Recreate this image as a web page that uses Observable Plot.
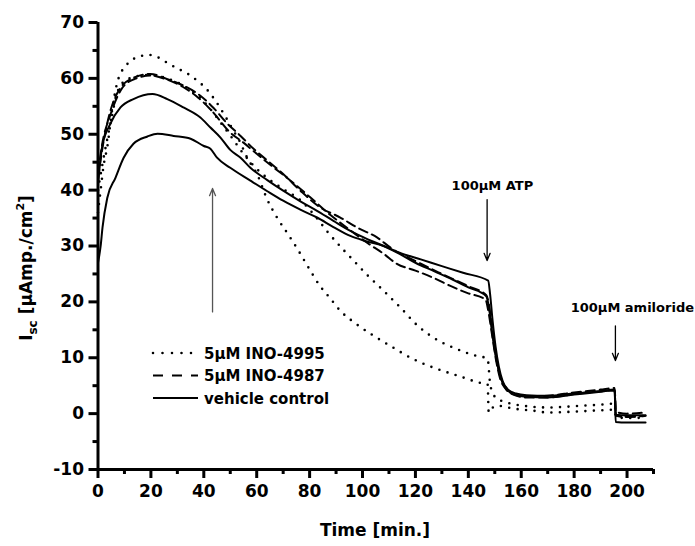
<!DOCTYPE html>
<html>
<head>
<meta charset="utf-8">
<script src="https://cdn.jsdelivr.net/npm/d3@7"></script>
<script src="https://cdn.jsdelivr.net/npm/@observablehq/plot@0.6"></script>
<style>
  html, body { margin: 0; padding: 0; background: #fff; }
  #chart { width: 695px; height: 546px; }
  #chart g[aria-label$="tick"], #chart g[aria-label$="tick"] path { stroke-width: 3px !important; stroke: #000 !important; }
  #chart g[aria-label="rule"] line { stroke-width: 3px !important; }
</style>
</head>
<body>
<div id="chart"></div>
<script>
// ---------- data ----------
const xTicks = [0, 20, 40, 60, 80, 100, 120, 140, 160, 180, 200];
const xMinorTicks = [10, 30, 50, 70, 90, 110, 130, 150, 170, 190, 210];
const yTicks = [-10, 0, 10, 20, 30, 40, 50, 60, 70];
const yMinorTicks = [-5, 5, 15, 25, 35, 45, 55, 65];

// 5µM INO-4995, trace A (dotted)
const dottedA_t = [0, 1, 2, 3.6, 5.4, 7.3, 9, 11.6, 15.4, 19.5, 23, 26.8, 30.4, 34, 37.5, 41, 44.4, 48, 51, 53.5, 56.4, 60.2, 64, 67.8, 72, 76, 80, 84, 87.5, 91.6, 96.6, 103, 110.6, 119, 127, 136, 144.5, 147.3, 147.7, 148.5, 151, 157, 165, 170, 182, 190, 195.3, 195.8, 200, 207];
const dottedA_v = [36, 40, 44, 48, 54.5, 59.3, 61.3, 62.8, 63.9, 64.2, 63.7, 62.6, 61.7, 60.8, 59.6, 58.1, 56, 53.3, 50.8, 48.8, 45.8, 42.8, 38.3, 35, 32, 29, 25.8, 22.8, 20.8, 18.4, 16.4, 14.3, 12.1, 9.8, 8.2, 6.8, 5.5, 5.2, 0.2, 0.8, 1.4, 0.9, 0.5, 0.2, 0.4, 0.6, 0.7, -0.6, -0.8, -0.7];
// 5µM INO-4995, trace B (dotted)
const dottedB_t = [0, 1.7, 4.7, 7.3, 10, 14, 18, 22, 26, 30, 34, 38, 42, 46, 50, 55, 60, 65, 70, 76.5, 82, 87, 92.8, 96, 101.8, 107.5, 114.3, 120.7, 126.8, 134.4, 141, 147.3, 148.2, 149.5, 151, 156, 161, 170, 182.5, 190, 195.3, 195.8, 200, 207];
const dottedB_v = [40, 44.7, 51.9, 57.5, 59.5, 60.3, 60.6, 60.5, 60, 59.3, 58.2, 56.8, 54.8, 52.3, 49.8, 46.5, 43.8, 41.8, 40.2, 38.2, 35.4, 32.4, 29.3, 27.7, 24.8, 22.2, 19, 15.8, 13.6, 11.8, 10.6, 9.8, 5.5, 3.4, 2.7, 1.8, 1.4, 1.1, 1.4, 1.6, 1.8, -0.3, -0.5, -0.4];
// 5µM INO-4987, trace A (dashed)
const dashedA_t = [0, 1.5, 4.7, 8.5, 13.4, 19.8, 26, 32.3, 38.7, 43.7, 48.9, 53.9, 58.8, 64, 70, 76.5, 84, 91.6, 98, 105.6, 110.6, 120, 130, 140, 146.8, 147.8, 149, 150.5, 152, 154, 157, 162, 170, 180, 190, 195.3, 195.8, 200, 207];
const dashedA_v = [42, 47, 54.2, 58.3, 60.1, 60.8, 59.9, 58.7, 56.9, 54.7, 51.9, 49.7, 47.4, 45.3, 42.9, 39.9, 36.9, 35.1, 33.3, 31.5, 29.7, 27.3, 25, 22.8, 21.2, 19.5, 15, 10, 6.8, 4.8, 3.6, 3.1, 3.2, 3.8, 4.3, 4.6, 0.3, 0, 0.2];
// 5µM INO-4987, trace B (dashed)
const dashedB_t = [0, 1.5, 4.7, 8.5, 13.4, 20, 26, 32, 38, 43, 50, 55, 60, 66, 72, 80, 88, 96, 102, 108, 113, 120, 126.8, 133, 139.5, 146.5, 147.5, 149, 150.5, 152, 154, 157, 162, 170, 180, 190, 195.3, 195.8, 200, 207];
const dashedB_v = [43, 48, 53.5, 57.8, 59.8, 60.5, 59.8, 58.5, 56.5, 54.2, 50.3, 48.5, 46.5, 44.2, 42, 38.8, 35.5, 32.6, 30.5, 28.6, 26.8, 25.6, 24.3, 22.9, 21.6, 20.4, 18.5, 14, 9.5, 6.3, 4.5, 3.4, 2.9, 2.9, 3.5, 4.0, 4.2, -0.4, -0.6, -0.4];
// vehicle control, trace A (solid)
const solidA_t = [0, 1, 1.7, 3.5, 6.6, 9.7, 13.4, 18.7, 22.5, 28.6, 35, 40, 42.5, 45, 50, 57.6, 64, 70, 76.5, 82.8, 89, 95.4, 101, 108, 114, 122, 130, 138, 147.5, 148.2, 149.2, 150.3, 151.5, 153, 155, 158, 162, 170, 180, 190, 195.3, 195.7, 200, 207];
const solidA_v = [27, 30, 33.3, 38.6, 42.2, 45.8, 48.3, 49.6, 50.1, 49.7, 49.2, 47.9, 47.4, 45.8, 44, 41.7, 39.8, 38.1, 36.5, 35.1, 33.4, 31.8, 30.9, 30, 28.8, 27.6, 26.4, 25.2, 23.8, 21.5, 16.5, 12, 8.5, 5.8, 4.3, 3.6, 3.3, 3.2, 3.6, 4.0, 4.3, -1.5, -1.6, -1.6];
// vehicle control, trace B (solid)
const solidB_t = [0, 1.5, 4.7, 8.5, 13.4, 20.6, 26.2, 32.3, 38.7, 42.5, 46.3, 50, 53.9, 57.6, 64, 70, 76.5, 82.8, 89, 95.4, 102, 108, 114, 120, 127, 134, 140, 146.8, 147.8, 149, 150.5, 152, 154, 157, 162, 170, 180, 190, 195.3, 195.7, 200, 207];
const solidB_v = [41, 47.6, 51.9, 54.8, 56.3, 57.2, 56.3, 54.8, 53, 51.2, 49.4, 47.2, 45.8, 44, 41.8, 39.9, 38, 36.3, 34.5, 32.7, 31.2, 30, 28.6, 27, 25.5, 24, 22.6, 21, 19, 14.5, 10, 6.8, 4.6, 3.5, 3.0, 2.9, 3.4, 3.9, 4.2, -0.2, -0.3, -0.3];

const legendLabels = ["5µM INO-4995", "5µM INO-4987", "vehicle control"];

// annotation arrows and labels
const arrowX = [43.3, 147.1, 195.6];
const arrowFrom = [18.2, 38.3, 15.7];
const arrowTo = [40.3, 27.4, 9.5];
const arrowColor = ["#555", "#000", "#000"];
const noteText = ["100µM ATP", "100µM amiloride"];
const noteX = [149.1, 202];
const noteY = [40.8, 19];

// ---------- build tables ----------
const series = (t, v) => t.map((d, i) => ({t: d, v: v[i]}));
const dotted = [series(dottedA_t, dottedA_v), series(dottedB_t, dottedB_v)];
const dashed = [series(dashedA_t, dashedA_v), series(dashedB_t, dashedB_v)];
const solid = [series(solidA_t, solidA_v), series(solidB_t, solidB_v)];
const arrows = arrowX.map((x, i) => ({x, y1: arrowFrom[i], y2: arrowTo[i], c: arrowColor[i]}));
const notes = noteText.map((s, i) => ({s, x: noteX[i], y: noteY[i]}));

const FONT = "DejaVu Sans, Verdana, sans-serif";
const lineOpts = {x: "t", y: "v", stroke: "black", curve: "monotone-x"};

const marks = [];
dotted.forEach(d => marks.push(Plot.line(d, {...lineOpts, strokeWidth: 2.6, strokeDasharray: "0 8.5", strokeLinecap: "round"})));
dashed.forEach(d => marks.push(Plot.line(d, {...lineOpts, strokeWidth: 2, strokeDasharray: "9 5"})));
solid.forEach(d => marks.push(Plot.line(d, {...lineOpts, strokeWidth: 2})));

const chart = Plot.plot({
  width: 695,
  height: 546,
  marginLeft: 97.5,
  marginRight: 42,
  marginTop: 22,
  marginBottom: 77,
  style: {fontFamily: FONT, fontWeight: "bold", background: "white"},
  x: {domain: [0, 210], axis: null},
  y: {domain: [-10, 70], axis: null},
  marks: [
    ...marks,
    Plot.arrow(arrows, {x: "x", y1: "y1", y2: "y2", stroke: "c", strokeWidth: 1.3, headLength: 9, headAngle: 45}),
    Plot.text(notes, {x: "x", y: "y", text: "s", fontSize: 13, fontWeight: "bold", fill: "black"}),
    Plot.axisX({ticks: xTicks, tickSize: 9, tickPadding: 6, strokeWidth: 3, fontSize: 17, fontWeight: "bold", tickFormat: d => String(d), label: null, fill: "black"}),
    Plot.axisX({ticks: xMinorTicks, tickSize: 5, strokeWidth: 3, tickFormat: () => "", label: null}),
    Plot.axisY({ticks: yTicks, tickSize: 9, tickPadding: 5, strokeWidth: 3, fontSize: 17, fontWeight: "bold", tickFormat: d => String(d), label: null, fill: "black"}),
    Plot.axisY({ticks: yMinorTicks, tickSize: 5, strokeWidth: 3, tickFormat: () => "", label: null}),
    Plot.ruleX([0], {y1: -10, y2: 70, stroke: "black", strokeWidth: 3}),
    Plot.ruleY([-10], {x1: 0, x2: 210, stroke: "black", strokeWidth: 3})
  ]
});

document.getElementById("chart").appendChild(chart);

const svg = d3.select(chart);
svg.selectAll('g[aria-label$="tick"]').attr("stroke-width", 3).attr("stroke", "black");

// Y axis label with subscript / superscript
const yl = svg.append("text")
  .attr("transform", "translate(32,268) rotate(-90)")
  .attr("text-anchor", "middle")
  .attr("font-family", FONT)
  .attr("font-weight", "bold")
  .attr("font-size", 17)
  .attr("fill", "black");
yl.append("tspan").text("I");
yl.append("tspan").attr("font-size", 12).attr("dy", 5).text("sc");
yl.append("tspan").attr("dy", -5).text(" [µAmp./cm");
yl.append("tspan").attr("font-size", 11).attr("dy", -8).text("2");
yl.append("tspan").attr("dy", 8).text("]");

// X axis label
svg.append("text")
  .attr("x", 375).attr("y", 536)
  .attr("text-anchor", "middle")
  .attr("font-family", FONT)
  .attr("font-weight", "bold")
  .attr("font-size", 17)
  .attr("fill", "black")
  .text("Time [min.]");

// Legend (inside plot area)
const legendDash = ["0 9.5", "10 9", null];
const legendWidth = [2.6, 2, 2];
const lg = svg.append("g").attr("transform", "translate(153,353)");
legendLabels.forEach((lab, i) => {
  const row = lg.append("g").attr("transform", `translate(0,${i * 22.5})`);
  const ln = row.append("line")
    .attr("x1", 0).attr("x2", 45).attr("y1", 0).attr("y2", 0)
    .attr("stroke", "black").attr("stroke-width", legendWidth[i]);
  if (legendDash[i]) ln.attr("stroke-dasharray", legendDash[i]);
  if (i === 0) ln.attr("stroke-linecap", "round");
  row.append("text")
    .attr("x", 51).attr("y", 5.5)
    .attr("text-anchor", "start")
    .attr("font-family", FONT)
    .attr("font-weight", "bold")
    .attr("font-size", 15)
    .attr("fill", "black")
    .text(lab);
});
</script>
</body>
</html>
